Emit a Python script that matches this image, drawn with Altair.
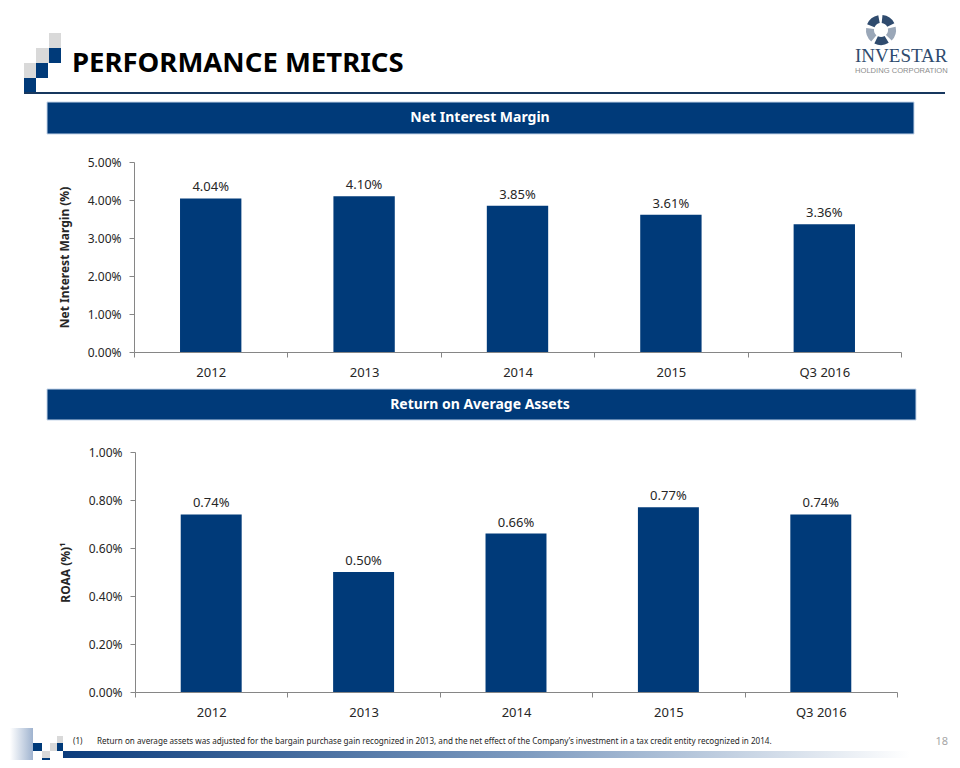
import altair as alt
import pandas as pd

# ---------------- data ----------------
categories = ["2012", "2013", "2014", "2015", "Q3 2016"]
nim_values = [4.04, 4.10, 3.85, 3.61, 3.36]          # Net Interest Margin, %
roaa_values = [0.74, 0.50, 0.66, 0.77, 0.74]         # Return on Average Assets, %
nim_ticks = [0, 1, 2, 3, 4, 5]
roaa_ticks = [0, 0.2, 0.4, 0.6, 0.8, 1.0]

page_title = "PERFORMANCE METRICS"
nim_banner = "Net Interest Margin"
roaa_banner = "Return on Average Assets"
nim_axis_title = "Net Interest Margin (%)"
roaa_axis_title = "ROAA (%)\u00b9"
footnote_num = "(1)"
footnote = ("Return on average assets was adjusted for the bargain purchase gain recognized in 2013, "
            "and the net effect of the Company\u2019s investment in a tax credit entity recognized in 2014.")
page_number = "18"

# ---------------- style ----------------
W, H = 944, 752
NAVY = "#003A79"
GRAY = "#D9D9D9"
LINE = "#17375E"
AXIS = "#868686"
TXT = "#262626"
FONT = "Noto Sans"

ONE = alt.Data(values=[{"a": 1}])


def rect(x, y, x2, y2, fill, **kw):
    return alt.Chart(ONE).mark_rect(fill=fill, **kw).encode(
        x=alt.value(x), x2=alt.value(x2), y=alt.value(y), y2=alt.value(y2))


def label(x, y, text, **kw):
    return alt.Chart(ONE).mark_text(text=text, **kw).encode(x=alt.value(x), y=alt.value(y))


def arc(cx, cy, t1, t2, fill):
    return alt.Chart(ONE).mark_arc(radius=15, radius2=7, fill=fill).encode(
        x=alt.value(cx), y=alt.value(cy), theta=alt.value(t1), theta2=alt.value(t2))


def panel(values, ticks, x_range, y_range, y_off, x_off, axis_title):
    df = pd.DataFrame({"cat": categories, "v": values})
    xs = alt.Scale(domain=categories, range=x_range, paddingInner=0, paddingOuter=0)
    ys = alt.Scale(domain=[ticks[0], ticks[-1]], range=y_range, nice=False, zero=True)
    x_axis = alt.Axis(orient="bottom", offset=y_off, title=None, labelAngle=0, tickBand="extent",
                      labelFontSize=13, labelPadding=9, tickSize=5, labelBaseline="top",
                      domainColor=AXIS, tickColor=AXIS, labelColor=TXT, labelFont=FONT)
    y_axis = alt.Axis(orient="left", offset=x_off, values=ticks, title=axis_title,
                      labelExpr="format(datum.value, '.2f') + '%'", labelFontSize=12,
                      labelPadding=8, tickSize=5, titleFontSize=12, titleFontWeight="bold",
                      titlePadding=16, grid=False, domainColor=AXIS, tickColor=AXIS,
                      labelColor=TXT, titleColor=TXT, labelFont=FONT, titleFont=FONT)
    bars = alt.Chart(df).mark_bar(color=NAVY, width=alt.RelativeBandSize(0.4)).encode(
        x=alt.X("cat:N", scale=xs, axis=x_axis, sort=None),
        y=alt.Y("v:Q", scale=ys, axis=y_axis),
    )
    text = alt.Chart(df).transform_calculate(
        label="format(datum.v, '.2f') + '%'"
    ).mark_text(dy=-7, baseline="alphabetic", fontSize=13, font=FONT, color=TXT).encode(
        x=alt.X("cat:N", scale=xs, axis=None, sort=None),
        y=alt.Y("v:Q", scale=ys, axis=None),
        text="label:N",
    )
    return [bars, text]


nim_layers = panel(nim_values, nim_ticks, [126, 893], [344, 154], 344 - H, -126, nim_axis_title)
roaa_layers = panel(roaa_values, roaa_ticks, [127, 889], [684, 444], 684 - H, -127, roaa_axis_title)

grad_h = alt.LinearGradient(gradient="linear", x1=0, x2=1, y1=0, y2=0,
                            stops=[alt.GradientStop(color="#0B3C7C", offset=0),
                                   alt.GradientStop(color="#7F9CC0", offset=0.55),
                                   alt.GradientStop(color="#FFFFFF", offset=1)])
grad_v = alt.LinearGradient(gradient="linear", x1=0, x2=1, y1=0, y2=0,
                            stops=[alt.GradientStop(color="#FFFFFF", offset=0),
                                   alt.GradientStop(color="#9FB3CF", offset=1)])

decor = [
    # header squares
    rect(41, 25, 53, 40, GRAY), rect(41, 40, 53, 55, NAVY),
    rect(28, 40, 41, 55, GRAY), rect(28, 55, 40, 70, NAVY),
    rect(16, 55, 28, 70, GRAY), rect(16, 70, 28, 85, NAVY),
    rect(16, 84, 937, 86, LINE),
    label(64, 64, page_title, font=FONT, fontSize=27.5, fontWeight="bold", color="#000000",
          align="left", baseline="alphabetic"),
    # logo
    arc(873, 22, 0.1, 1.1, "#2F4B6E"), arc(873, 22, 1.35, 2.35, "#9AA7B8"),
    arc(873, 22, 2.6, 3.6, "#2F4B6E"), arc(873, 22, 3.85, 4.85, "#9AA7B8"),
    arc(873, 22, 5.1, 6.1, "#2F4B6E"),
    label(847, 54, "INVESTAR", font="Liberation Serif", fontSize=19, color="#2F4B6E",
          align="left", baseline="alphabetic"),
    label(847, 64.5, "HOLDING CORPORATION", font="Liberation Sans", fontSize=7.6, color="#8C8C8C",
          align="left", baseline="alphabetic"),
    # banners
    rect(39, 94, 906, 126, NAVY, stroke="#C5D5EA", strokeWidth=1),
    label(472, 110, nim_banner, font=FONT, fontSize=14, fontWeight="bold", color="#FFFFFF",
          align="center", baseline="middle"),
    rect(39, 381, 908, 412, NAVY, stroke="#C5D5EA", strokeWidth=1),
    label(472, 397, roaa_banner, font=FONT, fontSize=14, fontWeight="bold", color="#FFFFFF",
          align="center", baseline="middle"),
    # footer
    rect(2, 720, 25, 760, grad_v),
    rect(55, 743, 902, 750, grad_h),
    rect(25, 735, 34, 743, NAVY), rect(34, 743, 42, 750, GRAY), rect(34, 750, 42, 760, NAVY),
    rect(42, 735, 49, 743, GRAY), rect(49, 728, 55, 735, GRAY), rect(49, 735, 55, 743, NAVY),
    label(65, 736, footnote_num, font=FONT, fontSize=8.1, color=TXT, align="left", baseline="alphabetic"),
    label(89, 736, footnote, font=FONT, fontSize=8.1, color=TXT, align="left", baseline="alphabetic"),
    label(940, 737, page_number, font=FONT, fontSize=11, color="#A6A6A6", align="right",
          baseline="alphabetic"),
]

chart = alt.layer(*nim_layers, *roaa_layers, *decor).resolve_scale(
    x="independent", y="independent"
).resolve_axis(
    x="independent", y="independent"
).properties(
    width=W, height=H, padding=0, background="#FFFFFF",
    autosize=alt.AutoSizeParams(type="none")
).configure_view(
    stroke="transparent"
)

chart.save("out.html", embed_options={"renderer": "svg", "actions": False})
